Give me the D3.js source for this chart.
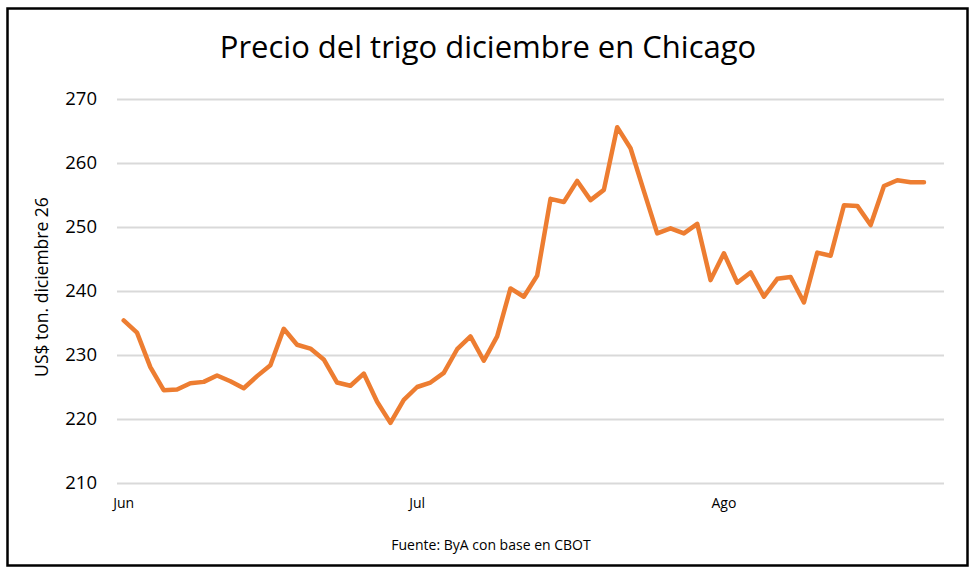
<!DOCTYPE html>
<html>
<head>
<meta charset="utf-8">
<script src="https://cdn.jsdelivr.net/npm/d3@7"></script>
<style>
  body { margin: 0; background: #fff; }
  text { font-family: "Open Sans", "Noto Sans", sans-serif; fill: #000; }
</style>
</head>
<body>
<div id="chart"></div>
<script>
// precio diario, trigo CBOT dic-26 (US$/ton)
const precios = [
  235.4, 233.5, 228.1, 224.5, 224.6, 225.6, 225.8, 226.8, 225.9, 224.8,
  226.7, 228.4, 234.1, 231.6, 231.0, 229.3, 225.7, 225.2, 227.1, 222.7,
  219.4, 223.0, 225.0, 225.7, 227.2, 230.9, 232.9, 229.1, 232.9, 240.4,
  239.1, 242.4, 254.4, 253.9, 257.2, 254.2, 255.8, 265.6, 262.3, 255.6,
  249.0, 249.8, 249.0, 250.5, 241.7, 245.9, 241.3, 242.9, 239.1, 241.9,
  242.2, 238.2, 246.0, 245.5, 253.4, 253.3, 250.3, 256.4, 257.3, 257.0,
  257.0
]
const nCategorias = 62
const mesLabels = ["Jun", "Jul", "Ago"]
const mesIndex = [0, 22, 45]
const yTicks = [210, 220, 230, 240, 250, 260, 270]

const W = 975, H = 572
const margin = {top: 99, right: 31, bottom: 89, left: 117}
const w = W - margin.left - margin.right,
      h = H - margin.top - margin.bottom

const svg = d3.select("#chart")
  .append("svg")
  .attr("width", W)
  .attr("height", H)

// marco
svg.append("rect")
  .attr("x", 7.5).attr("y", 8.5)
  .attr("width", 960).attr("height", 557)
  .attr("fill", "#fff")
  .attr("stroke", "#000")
  .attr("stroke-width", 2.5)

const g = svg.append("g")
  .attr("transform", `translate(${margin.left},${margin.top})`)

const x = d3.scaleBand()
  .domain(d3.range(nCategorias))
  .range([0, w])

const y = d3.scaleLinear()
  .domain([210, 270])
  .range([h, 0])

// grilla + eje y
const yAxis = d3.axisLeft(y)
  .tickValues(yTicks)
  .tickSize(-w)
  .tickPadding(20)

g.append("g")
  .call(yAxis)
  .call(a => a.select(".domain").remove())
  .call(a => a.selectAll("line").attr("stroke", "#d9d9d9").attr("stroke-width", 2))
  .call(a => a.selectAll("text")
    .attr("font-size", 18.5)
    .attr("font-family", "\"Open Sans\", sans-serif"))

// eje x (solo meses)
const xAxis = d3.axisBottom(x)
  .tickValues(mesIndex)
  .tickFormat((d, i) => mesLabels[i])
  .tickSize(0)
  .tickPadding(15)

g.append("g")
  .attr("transform", `translate(0,${h})`)
  .call(xAxis)
  .call(a => a.select(".domain").remove())
  .call(a => a.selectAll("text")
    .attr("font-size", 14)
    .attr("font-family", "\"Open Sans\", sans-serif"))

const line = d3.line()
  .x((d, i) => x(i) + x.bandwidth() / 2)
  .y(d => y(d))

g.append("path")
  .datum(precios)
  .attr("fill", "none")
  .attr("stroke", "#ED7D31")
  .attr("stroke-width", 4.5)
  .attr("stroke-linejoin", "round")
  .attr("stroke-linecap", "round")
  .attr("d", line)

// titulo
svg.append("text")
  .attr("x", 488)
  .attr("y", 58)
  .attr("text-anchor", "middle")
  .attr("font-size", 31)
  .text("Precio del trigo diciembre en Chicago")

// titulo eje y
svg.append("text")
  .attr("transform", "translate(42,287) rotate(-90)")
  .attr("text-anchor", "middle")
  .attr("dy", "0.35em")
  .attr("font-size", 17.5)
  .text("US$ ton. diciembre 26")

// fuente
svg.append("text")
  .attr("x", 491)
  .attr("y", 550)
  .attr("text-anchor", "middle")
  .attr("font-size", 14)
  .text("Fuente: ByA con base en CBOT")
</script>
</body>
</html>
